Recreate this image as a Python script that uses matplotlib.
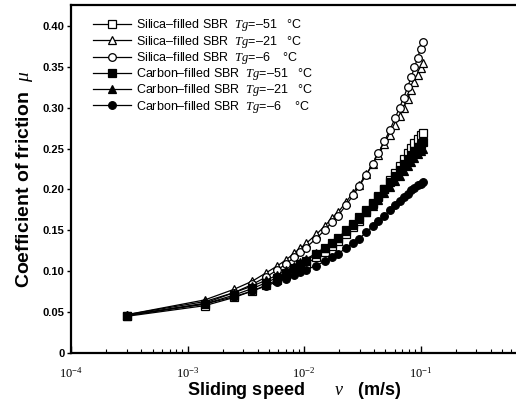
import math
import matplotlib.pyplot as plt
from matplotlib.ticker import FixedLocator, LogLocator, FuncFormatter, NullFormatter

plt.rcParams['font.family'] = ['Liberation Sans', 'DejaVu Sans']
plt.rcParams['mathtext.fontset'] = 'custom'
plt.rcParams['mathtext.it'] = 'Liberation Serif:italic'
plt.rcParams['mathtext.rm'] = 'Liberation Serif'

# sliding speed (m/s)
speed = [0.0003, 0.0014, 0.0025, 0.0036, 0.0047, 0.0058, 0.0070, 0.0082, 0.0093, 0.0104,
         0.0127, 0.0150, 0.0173, 0.0196, 0.0230, 0.0264, 0.0298, 0.0343, 0.0388, 0.0433,
         0.0490, 0.0547, 0.0604, 0.0660, 0.0717, 0.0774, 0.0830, 0.0887, 0.0944, 0.1001, 0.1040]

# coefficient of friction
silica_51 = [0.045, 0.058, 0.068, 0.076, 0.083, 0.089, 0.095, 0.100, 0.105, 0.109,
             0.117, 0.124, 0.131, 0.137, 0.146, 0.154, 0.162, 0.172, 0.182, 0.191,
             0.201, 0.211, 0.220, 0.229, 0.237, 0.244, 0.251, 0.257, 0.262, 0.266, 0.269]
silica_21 = [0.047, 0.065, 0.078, 0.088, 0.098, 0.106, 0.114, 0.122, 0.128, 0.134,
             0.145, 0.155, 0.165, 0.172, 0.185, 0.196, 0.206, 0.219, 0.231, 0.242,
             0.255, 0.267, 0.279, 0.290, 0.300, 0.311, 0.321, 0.331, 0.340, 0.348, 0.354]
silica_6 = [0.046, 0.061, 0.074, 0.084, 0.093, 0.101, 0.109, 0.117, 0.123, 0.129,
            0.140, 0.150, 0.160, 0.168, 0.181, 0.193, 0.204, 0.218, 0.231, 0.244,
            0.259, 0.273, 0.287, 0.300, 0.312, 0.325, 0.337, 0.349, 0.361, 0.372, 0.380]
carbon_51 = [0.046, 0.060, 0.071, 0.079, 0.086, 0.092, 0.098, 0.104, 0.109, 0.113,
             0.121, 0.128, 0.135, 0.141, 0.150, 0.158, 0.166, 0.175, 0.184, 0.192,
             0.201, 0.209, 0.217, 0.224, 0.231, 0.237, 0.242, 0.247, 0.252, 0.256, 0.258]
carbon_21 = [0.047, 0.063, 0.074, 0.082, 0.089, 0.095, 0.101, 0.106, 0.111, 0.115,
             0.122, 0.129, 0.135, 0.141, 0.149, 0.157, 0.164, 0.172, 0.180, 0.187,
             0.196, 0.203, 0.210, 0.217, 0.223, 0.229, 0.234, 0.239, 0.243, 0.247, 0.249]
carbon_6 = [0.046, 0.060, 0.069, 0.076, 0.082, 0.087, 0.091, 0.095, 0.099, 0.102,
            0.107, 0.112, 0.117, 0.121, 0.129, 0.134, 0.140, 0.148, 0.155, 0.161,
            0.168, 0.175, 0.181, 0.186, 0.191, 0.195, 0.199, 0.202, 0.205, 0.207, 0.209]

series = [
    ('Silica–filled SBR  $Tg$=–51   °C', silica_51, 's', 'white'),
    ('Silica–filled SBR  $Tg$=–21   °C', silica_21, '^', 'white'),
    ('Silica–filled SBR  $Tg$=–6    °C', silica_6, 'o', 'white'),
    ('Carbon–filled SBR  $Tg$=–51   °C', carbon_51, 's', 'black'),
    ('Carbon–filled SBR  $Tg$=–21   °C', carbon_21, '^', 'black'),
    ('Carbon–filled SBR  $Tg$=–6    °C', carbon_6, 'o', 'black'),
]

fig = plt.figure(figsize=(5.16, 4.05), dpi=100)
ax = fig.add_axes([0.138, 0.128, 0.862, 0.859])

for label, vals, mk, face in series:
    ax.plot(speed, vals, color='black', lw=0.9, marker=mk, markersize=5.5,
            markerfacecolor=face, markeredgecolor='black', markeredgewidth=0.9,
            label=label)

ax.set_xscale('log')
ax.set_xlim(1e-4, 10 ** -0.18)
ax.set_ylim(0, 0.425)

ax.xaxis.set_major_locator(FixedLocator([1e-4, 1e-3, 1e-2, 1e-1]))
ax.xaxis.set_major_formatter(FuncFormatter(lambda v, p: r'$10^{%d}$' % round(math.log10(v))))
ax.xaxis.set_minor_locator(LogLocator(base=10, subs=range(2, 10), numticks=20))
ax.xaxis.set_minor_formatter(NullFormatter())

yt = [0, 0.05, 0.10, 0.15, 0.20, 0.25, 0.30, 0.35, 0.40]
ax.set_yticks(yt)
ax.set_yticklabels(['0'] + ['%.2f' % t for t in yt[1:]], fontweight='bold', fontsize=8)

ax.tick_params(axis='x', which='major', direction='in', length=5, width=1, labelsize=9, pad=9)
ax.tick_params(axis='x', which='minor', direction='in', length=3, width=0.8)
ax.tick_params(axis='y', direction='out', length=3, width=1, pad=2)

ax.spines['right'].set_visible(False)
for s in ['left', 'bottom', 'top']:
    ax.spines[s].set_linewidth(1.6)

ax.set_xlabel('Sliding speed      $v$   (m/s)', fontsize=13, fontweight='bold', labelpad=0)
ax.set_ylabel('Coefficient of friction  $\\mu$', fontsize=14, fontweight='bold', labelpad=5)

ax.legend(loc='upper left', bbox_to_anchor=(0.03, 0.99), frameon=False, fontsize=9,
          handlelength=3.0, handletextpad=0.4, labelspacing=0.02, borderpad=0.2)

fig.savefig('out.png', dpi=100)
